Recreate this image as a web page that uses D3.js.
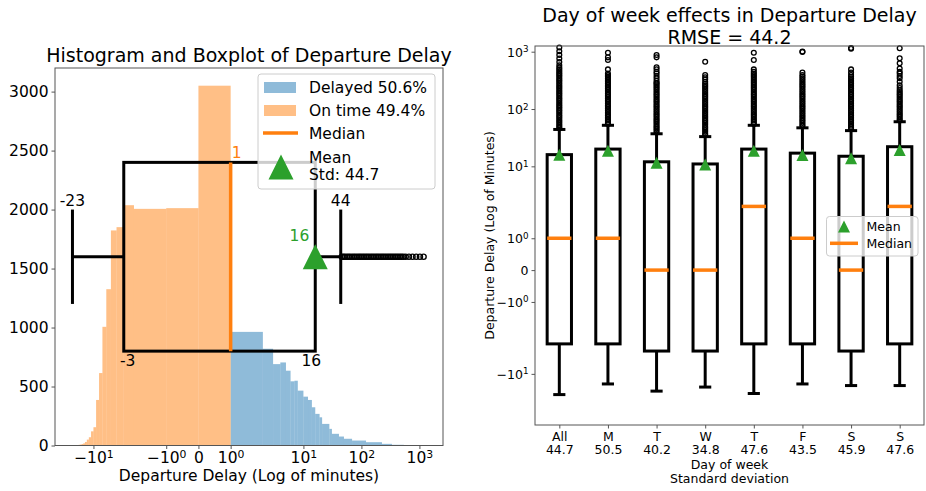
<!DOCTYPE html>
<html><head><meta charset="utf-8">
<script src="https://cdn.jsdelivr.net/npm/d3@7"></script>
<style>
body{margin:0;background:#fff;}
svg text{font-family:"DejaVu Sans",sans-serif;fill:#000;}
</style></head><body>
<svg id="chart" width="926" height="491"></svg>
<script>
// ---------- histogram (delay in minutes, per-minute counts) ----------
const onTimeEdges  = [-25,-20,-18,-17,-16,-15,-14,-13,-12,-11,-10,-9,-8,-7,-6,-5,-4,-3,-2,-1,0,1];
const onTimeCounts = [2,4,6,8,12,18,30,50,70,120,155,386,614,1006,1325,1823,1851,2037,2006,2012,3050];
const delayedEdges  = [1,2,3,4,5,6,7,8,10,12,14,16,19,21,28,31,41,50,69,120,226,336,540,1100];
const delayedCounts = [963,820,690,704,634,544,549,465,414,386,324,268,239,183,141,99,76,57,42,28,14,6,2];

const histXTicks = [-10,-1,0,1,10,100,1000];
const histYTicks = [0,500,1000,1500,2000,2500,3000];

// ---------- box statistics per day (index 0 = all days) ----------
const dayLabels   = ["All","M","T","W","T","F","S","S"];
const dayStd      = [44.7,50.5,40.2,34.8,47.6,43.5,45.9,47.6];
const whiskerLow  = [-23,-15,-20,-17,-22,-15,-16,-16];
const quartile1   = [-3,-3,-4,-4,-3,-3,-4,-3];
const medians     = [1,1,0,0,2,1,0,2];
const quartile3   = [16,20,12,11,20,17,15,22];
const whiskerHigh = [44,52,37,33,52,47,42,60];
const means       = [16,18.7,11.6,10.8,18.7,15.7,13.8,19.2];
const fliersAll = [46,49,52,56,60,64,69,74,79,85,91,97,104,111,119,127,136,146,156,167,179,191,204,219,234,250,268,287,307,328,351,376,402,430,461,493,528,580,660,760,880,1020,1180];
const fliersMon = [55,59,63,67,72,77,82,88,94,101,108,115,123,132,141,151,162,173,185,198,212,227,243,260,278,297,318,340,364,390,417,491,716,796,956];
const fliersTue = [39,42,45,48,51,55,59,63,67,72,77,82,88,94,101,108,115,123,132,141,151,162,173,185,198,212,227,243,260,278,288,312,344,377,417,448,493,535,796,875];
const fliersWed = [35,37,40,43,46,49,53,57,61,65,70,75,80,86,92,99,106,113,121,130,139,149,160,171,183,196,210,225,241,258,276,299,330,357,392,669];
const fliersThu = [55,59,63,67,72,77,82,88,94,101,108,115,123,132,141,151,162,173,185,198,212,227,243,260,278,297,318,340,364,390,417,448,491,716,956];
const fliersFri = [50,53,57,61,65,70,75,80,86,92,99,106,113,121,130,139,149,160,171,183,196,210,225,241,258,276,296,317,340,367,392,432,990,1010];
const fliersSat = [45,48,51,55,59,63,67,72,77,82,88,94,101,108,115,123,132,141,151,162,173,185,198,212,227,243,260,278,297,318,340,364,392,432,491,1130,1160];
const fliersSun = [63,67,72,77,82,88,94,101,108,115,123,132,141,151,162,173,185,198,212,232,258,299,344,377,417,448,510,627,766,1146];
const fliers = [fliersAll,fliersMon,fliersTue,fliersWed,fliersThu,fliersFri,fliersSat,fliersSun];
const boxYTicks = [1000,100,10,1,0,-1,-10];

const rmse = 44.2;
const delayedShare = 50.6, onTimeShare = 49.4;

// ---------- colours ----------
const C_BLUE = "#1f77b4", C_ORANGE = "#ff7f0e", C_GREEN = "#2ca02c";
const SPINE = "#555";

// symmetric log transform (base 10, linear threshold 2, linear scale 1)
const LINTHRESH = 2, LINSCALE = 1 / (1 - 1 / 10);
function symlog(v) {
  const a = Math.abs(v);
  if (a <= LINTHRESH) return v * LINSCALE;
  return Math.sign(v) * LINTHRESH * (LINSCALE + Math.log10(a / LINTHRESH));
}

// "10^n" label with a raised exponent
function powLabel(text, v) {
  if (v === 0) { text.text("0"); return; }
  const e = Math.round(Math.log10(Math.abs(v)));
  text.append("tspan").text((v < 0 ? "\u2212" : "") + "10");
  text.append("tspan").attr("dy", "-0.5em").attr("font-size", "0.7em").text(e);
}

function triangle(cx, cy, s) {
  const h = s / 2;
  return `M${cx},${cy - h}L${cx + h},${cy + h}L${cx - h},${cy + h}Z`;
}

const svg = d3.select("#chart");

// =================== left panel: histogram + horizontal boxplot ===================
const L = {left: 55, right: 443, top: 68, bottom: 445.5};
const xL = d3.scaleLinear().domain([symlog(-46), symlog(2550)]).range([L.left, L.right]);
const X = v => xL(symlog(v));
const yL = d3.scaleLinear().domain([0, 3200]).range([L.bottom, L.top]);
const gL = svg.append("g");

gL.append("g").selectAll("rect").data(d3.range(delayedCounts.length)).join("rect")
  .attr("x", i => X(delayedEdges[i])).attr("width", i => X(delayedEdges[i + 1]) - X(delayedEdges[i]))
  .attr("y", i => yL(delayedCounts[i])).attr("height", i => yL(0) - yL(delayedCounts[i]))
  .attr("fill", C_BLUE).attr("fill-opacity", 0.5);
gL.append("g").selectAll("rect").data(d3.range(onTimeCounts.length)).join("rect")
  .attr("x", i => X(onTimeEdges[i])).attr("width", i => X(onTimeEdges[i + 1]) - X(onTimeEdges[i]))
  .attr("y", i => yL(onTimeCounts[i])).attr("height", i => yL(0) - yL(onTimeCounts[i]))
  .attr("fill", C_ORANGE).attr("fill-opacity", 0.5);

// boxplot of all delays, drawn across the histogram at height 1600
const bp = 1600, bw = 1600;
const q1 = quartile1[0], q3 = quartile3[0], md = medians[0], lo = whiskerLow[0], hi = whiskerHigh[0], mn = means[0];
const boxL = gL.append("g").attr("stroke", "#000").attr("stroke-width", 3).attr("fill", "none");
boxL.append("rect").attr("x", X(q1)).attr("y", yL(bp + bw / 2)).attr("width", X(q3) - X(q1)).attr("height", yL(bp - bw / 2) - yL(bp + bw / 2));
boxL.append("line").attr("x1", X(lo)).attr("x2", X(q1)).attr("y1", yL(bp)).attr("y2", yL(bp));
boxL.append("line").attr("x1", X(q3)).attr("x2", X(hi)).attr("y1", yL(bp)).attr("y2", yL(bp));
boxL.append("line").attr("x1", X(lo)).attr("x2", X(lo)).attr("y1", yL(bp - bw / 4)).attr("y2", yL(bp + bw / 4));
boxL.append("line").attr("x1", X(hi)).attr("x2", X(hi)).attr("y1", yL(bp - bw / 4)).attr("y2", yL(bp + bw / 4));
gL.append("g").selectAll("circle").data(fliersAll).join("circle")
  .attr("cx", d => X(d)).attr("cy", yL(bp)).attr("r", 2.6)
  .attr("fill", "none").attr("stroke", "#000").attr("stroke-width", 1.4);
gL.append("line").attr("x1", X(md)).attr("x2", X(md)).attr("y1", yL(bp - bw / 2)).attr("y2", yL(bp + bw / 2))
  .attr("stroke", C_ORANGE).attr("stroke-width", 3.5);
gL.append("path").attr("d", triangle(X(mn), yL(bp), 25)).attr("fill", C_GREEN);

const lbl = gL.append("g").attr("font-size", 15.5);
lbl.append("text").attr("x", X(lo)).attr("y", yL(bp + bw / 4) - 4).attr("text-anchor", "middle").text(lo);
lbl.append("text").attr("x", X(hi)).attr("y", yL(bp + bw / 4) - 4).attr("text-anchor", "middle").text(hi);
lbl.append("text").attr("x", X(q1) + 4).attr("y", yL(bp - bw / 2) + 15).attr("text-anchor", "middle").text(q1);
lbl.append("text").attr("x", X(q3) - 4).attr("y", yL(bp - bw / 2) + 15).attr("text-anchor", "middle").text(q3);
lbl.append("text").attr("x", X(md) + 1).attr("y", yL(bp + bw / 2) - 4).attr("text-anchor", "start").style("fill", C_ORANGE).text(md);
lbl.append("text").attr("x", X(mn) - 6).attr("y", yL(bp) - 15.5).attr("text-anchor", "end").style("fill", C_GREEN).text(Math.round(mn));

// axes
const axXL = gL.append("g").attr("transform", `translate(0,${L.bottom})`)
  .call(d3.axisBottom(xL).tickValues(histXTicks.map(symlog)).tickSize(3.5).tickFormat(""));
axXL.selectAll(".tick").each(function (d, i) {
  const t = d3.select(this).append("text").attr("y", 17.5).attr("font-size", 15.5).attr("text-anchor", "middle");
  powLabel(t, histXTicks[i]);
});
const axYL = gL.append("g").attr("transform", `translate(${L.left},0)`)
  .call(d3.axisLeft(yL).tickValues(histYTicks).tickSize(3.5).tickPadding(3).tickFormat(d3.format("d")));
axYL.selectAll("text").attr("font-size", 15.5).style("fill", "#000").attr("font-family", null);
[axXL, axYL].forEach(a => { a.select(".domain").remove(); a.selectAll("line").attr("stroke", SPINE); });
gL.append("rect").attr("x", L.left).attr("y", L.top).attr("width", L.right - L.left).attr("height", L.bottom - L.top)
  .attr("fill", "none").attr("stroke", SPINE).attr("stroke-width", 1);

gL.append("text").attr("x", (L.left + L.right) / 2).attr("y", 62).attr("text-anchor", "middle").attr("font-size", 19)
  .text("Histogram and Boxplot of Departure Delay");
gL.append("text").attr("x", (L.left + L.right) / 2).attr("y", 481).attr("text-anchor", "middle").attr("font-size", 15.5)
  .text("Departure Delay (Log of minutes)");

// legend
const lgL = gL.append("g");
lgL.append("rect").attr("x", 258).attr("y", 74).attr("width", 177).attr("height", 115).attr("rx", 3)
  .attr("fill", "#fff").attr("fill-opacity", 0.8).attr("stroke", "#ccc");
lgL.append("rect").attr("x", 264).attr("y", 82).attr("width", 32).attr("height", 11).attr("fill", C_BLUE).attr("fill-opacity", 0.5);
lgL.append("rect").attr("x", 264).attr("y", 105).attr("width", 32).attr("height", 11).attr("fill", C_ORANGE).attr("fill-opacity", 0.5);
lgL.append("line").attr("x1", 263).attr("x2", 298).attr("y1", 133).attr("y2", 133).attr("stroke", C_ORANGE).attr("stroke-width", 3.5);
lgL.append("path").attr("d", triangle(281, 167, 25)).attr("fill", C_GREEN);
const lgT = lgL.append("g").attr("font-size", 15.5);
lgT.append("text").attr("x", 309).attr("y", 93).text(`Delayed ${delayedShare}%`);
lgT.append("text").attr("x", 309).attr("y", 116).text(`On time ${onTimeShare}%`);
lgT.append("text").attr("x", 309).attr("y", 139).text("Median");
lgT.append("text").attr("x", 309).attr("y", 162.5).text("Mean");
lgT.append("text").attr("x", 309).attr("y", 180).text(`Std: ${dayStd[0]}`);

// =================== right panel: boxplots by day of week ===================
const R = {left: 535, right: 924, top: 46, bottom: 425};
const xR = d3.scaleLinear().domain([0.5, dayLabels.length + 0.5]).range([R.left, R.right]);
const yR = d3.scaleLinear().domain([symlog(-78), symlog(1257)]).range([R.bottom, R.top]);
const Y = v => yR(symlog(v));
const gR = svg.append("g");
const boxW = 0.5;

dayLabels.forEach((lab, i) => {
  const p = i + 1;
  const g = gR.append("g");
  const s = g.append("g").attr("stroke", "#000").attr("stroke-width", 3).attr("fill", "none");
  s.append("rect").attr("x", xR(p - boxW / 2)).attr("width", xR(p + boxW / 2) - xR(p - boxW / 2))
    .attr("y", Y(quartile3[i])).attr("height", Y(quartile1[i]) - Y(quartile3[i]));
  s.append("line").attr("x1", xR(p)).attr("x2", xR(p)).attr("y1", Y(quartile1[i])).attr("y2", Y(whiskerLow[i]));
  s.append("line").attr("x1", xR(p)).attr("x2", xR(p)).attr("y1", Y(quartile3[i])).attr("y2", Y(whiskerHigh[i]));
  s.append("line").attr("x1", xR(p - boxW / 4)).attr("x2", xR(p + boxW / 4)).attr("y1", Y(whiskerLow[i])).attr("y2", Y(whiskerLow[i]));
  s.append("line").attr("x1", xR(p - boxW / 4)).attr("x2", xR(p + boxW / 4)).attr("y1", Y(whiskerHigh[i])).attr("y2", Y(whiskerHigh[i]));
  g.append("g").selectAll("circle").data(fliers[i]).join("circle")
    .attr("cx", xR(p)).attr("cy", d => Y(d)).attr("r", 2.4)
    .attr("fill", "none").attr("stroke", "#000").attr("stroke-width", 1.3);
  g.append("line").attr("x1", xR(p - boxW / 2)).attr("x2", xR(p + boxW / 2)).attr("y1", Y(medians[i])).attr("y2", Y(medians[i]))
    .attr("stroke", C_ORANGE).attr("stroke-width", 3.5);
  g.append("path").attr("d", triangle(xR(p), Y(means[i]), 12)).attr("fill", C_GREEN);
});

// axes
const axXR = gR.append("g").attr("transform", `translate(0,${R.bottom})`)
  .call(d3.axisBottom(xR).tickValues(d3.range(1, dayLabels.length + 1)).tickSize(3.5).tickFormat(""));
axXR.selectAll(".tick").each(function (d, i) {
  const t = d3.select(this).append("text").attr("font-size", 12.5).attr("text-anchor", "middle");
  t.append("tspan").attr("x", 0).attr("y", 15.5).text(dayLabels[i]);
  t.append("tspan").attr("x", 0).attr("y", 29).text(dayStd[i].toFixed(1));
});
const axYR = gR.append("g").attr("transform", `translate(${R.left},0)`)
  .call(d3.axisLeft(yR).tickValues(boxYTicks.map(symlog)).tickSize(3.5).tickFormat(""));
axYR.selectAll(".tick").each(function (d, i) {
  const t = d3.select(this).append("text").attr("x", -6.5).attr("dy", "0.35em").attr("font-size", 12.5).attr("text-anchor", "end");
  powLabel(t, boxYTicks[i]);
});
[axXR, axYR].forEach(a => { a.select(".domain").remove(); a.selectAll("line").attr("stroke", SPINE); });
gR.append("rect").attr("x", R.left).attr("y", R.top).attr("width", R.right - R.left).attr("height", R.bottom - R.top)
  .attr("fill", "none").attr("stroke", SPINE).attr("stroke-width", 1);

const cxR = (R.left + R.right) / 2;
gR.append("text").attr("x", cxR).attr("y", 21.5).attr("text-anchor", "middle").attr("font-size", 19)
  .text("Day of week effects in Departure Delay");
gR.append("text").attr("x", cxR).attr("y", 44).attr("text-anchor", "middle").attr("font-size", 19)
  .text(`RMSE = ${rmse}`);
gR.append("text").attr("x", cxR).attr("y", 469).attr("text-anchor", "middle").attr("font-size", 12.5).text("Day of week");
gR.append("text").attr("x", cxR).attr("y", 483).attr("text-anchor", "middle").attr("font-size", 12.5).text("Standard deviation");
gR.append("text").attr("transform", `translate(494,${(R.top + R.bottom) / 2}) rotate(-90)`)
  .attr("text-anchor", "middle").attr("font-size", 12.5).text("Departure Delay (Log of Minutes)");

// legend
const lgR = gR.append("g");
lgR.append("rect").attr("x", 826.5).attr("y", 216.5).attr("width", 91.5).attr("height", 39.5).attr("rx", 3)
  .attr("fill", "#fff").attr("fill-opacity", 0.8).attr("stroke", "#ccc");
lgR.append("path").attr("d", triangle(844, 226.5, 12)).attr("fill", C_GREEN);
lgR.append("line").attr("x1", 830).attr("x2", 858).attr("y1", 243.3).attr("y2", 243.3).attr("stroke", C_ORANGE).attr("stroke-width", 3.5);
lgR.append("text").attr("x", 866.5).attr("y", 231).attr("font-size", 12.5).text("Mean");
lgR.append("text").attr("x", 866.5).attr("y", 248).attr("font-size", 12.5).text("Median");
</script>
</body></html>
